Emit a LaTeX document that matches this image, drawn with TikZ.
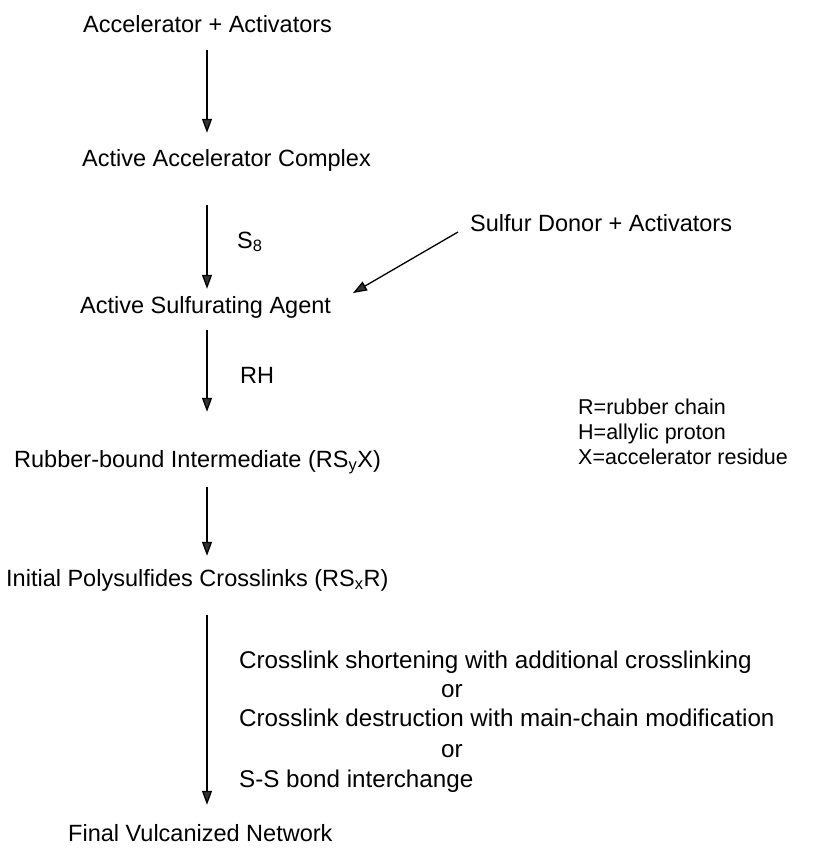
\documentclass[tikz,border=0pt]{standalone}
\usepackage{fontspec}
\setmainfont{Liberation Sans}
\usetikzlibrary{arrows.meta}
\begin{document}
\begin{tikzpicture}[x=1pt,y=-1pt,
  lbl/.style={inner sep=0pt,anchor=west,text height=17pt,text depth=5pt,font=\fontsize{23.5}{28}\selectfont},
  leg/.style={lbl,font=\fontsize{21.5}{26}\selectfont},
  alt/.style={lbl,font=\fontsize{24.2}{29}\selectfont},
  arr/.style={line width=1.3pt,-{Triangle[width=10pt,length=14pt,fill=black!80]}}]
\useasboundingbox (0,0) rectangle (816,851);
\coordinate (ax) at (207,0);
\node[lbl] (a) at (83,27) {Accelerator + Activators};
\node[lbl] (b) at (82,160) {Active Accelerator Complex};
\node[lbl] (c) at (80,307) {Active Sulfurating Agent};
\node[lbl] (d) at (14,461) {Rubber-bound Intermediate (RS\textsubscript{y}X)};
\node[lbl] (e) at (6,580) {Initial Polysulfides Crosslinks (RS\textsubscript{x}R)};
\node[lbl] (f) at (68,835) {Final Vulcanized Network};
\node[lbl] (sd) at (470,225) {Sulfur Donor + Activators};
\node[lbl] (s8) at (237,242) {S\textsubscript{8}};
\node[lbl] (rh) at (240,377) {RH};
\node[leg] (l1) at (578,408) {R=rubber chain};
\node[leg] (l2) at (578,433) {H=allylic proton};
\node[leg] (l3) at (578,458) {X=accelerator residue};
\node[alt] (t1) at (239,662) {Crosslink shortening with additional crosslinking};
\node[alt,anchor=center] (o1) at (452,691) {or};
\node[alt] (t2) at (239,720) {Crosslink destruction with main-chain modification};
\node[alt,anchor=center] (o2) at (452,751) {or};
\node[alt] (t3) at (239,781) {S-S bond interchange};
\coordinate (dend) at (353,293);
\draw[arr,shorten <=12pt,shorten >=16pt] (a.south -| ax) -- (b.north -| ax);
\draw[arr,shorten <=34pt,shorten >=7pt] (b.south -| ax) -- (c.north -| ax);
\draw[arr,shorten <=12pt,shorten >=38pt] (c.south -| ax) -- (d.north -| ax);
\draw[arr,shorten <=15pt,shorten >=13pt] (d.south -| ax) -- (e.north -| ax);
\draw[arr,shorten <=24pt,shorten >=19pt] (e.south -| ax) -- (f.north -| ax);
\draw[arr] ([xshift=-12pt,yshift=-7pt]sd.west) -- (dend);
\end{tikzpicture}
\end{document}
